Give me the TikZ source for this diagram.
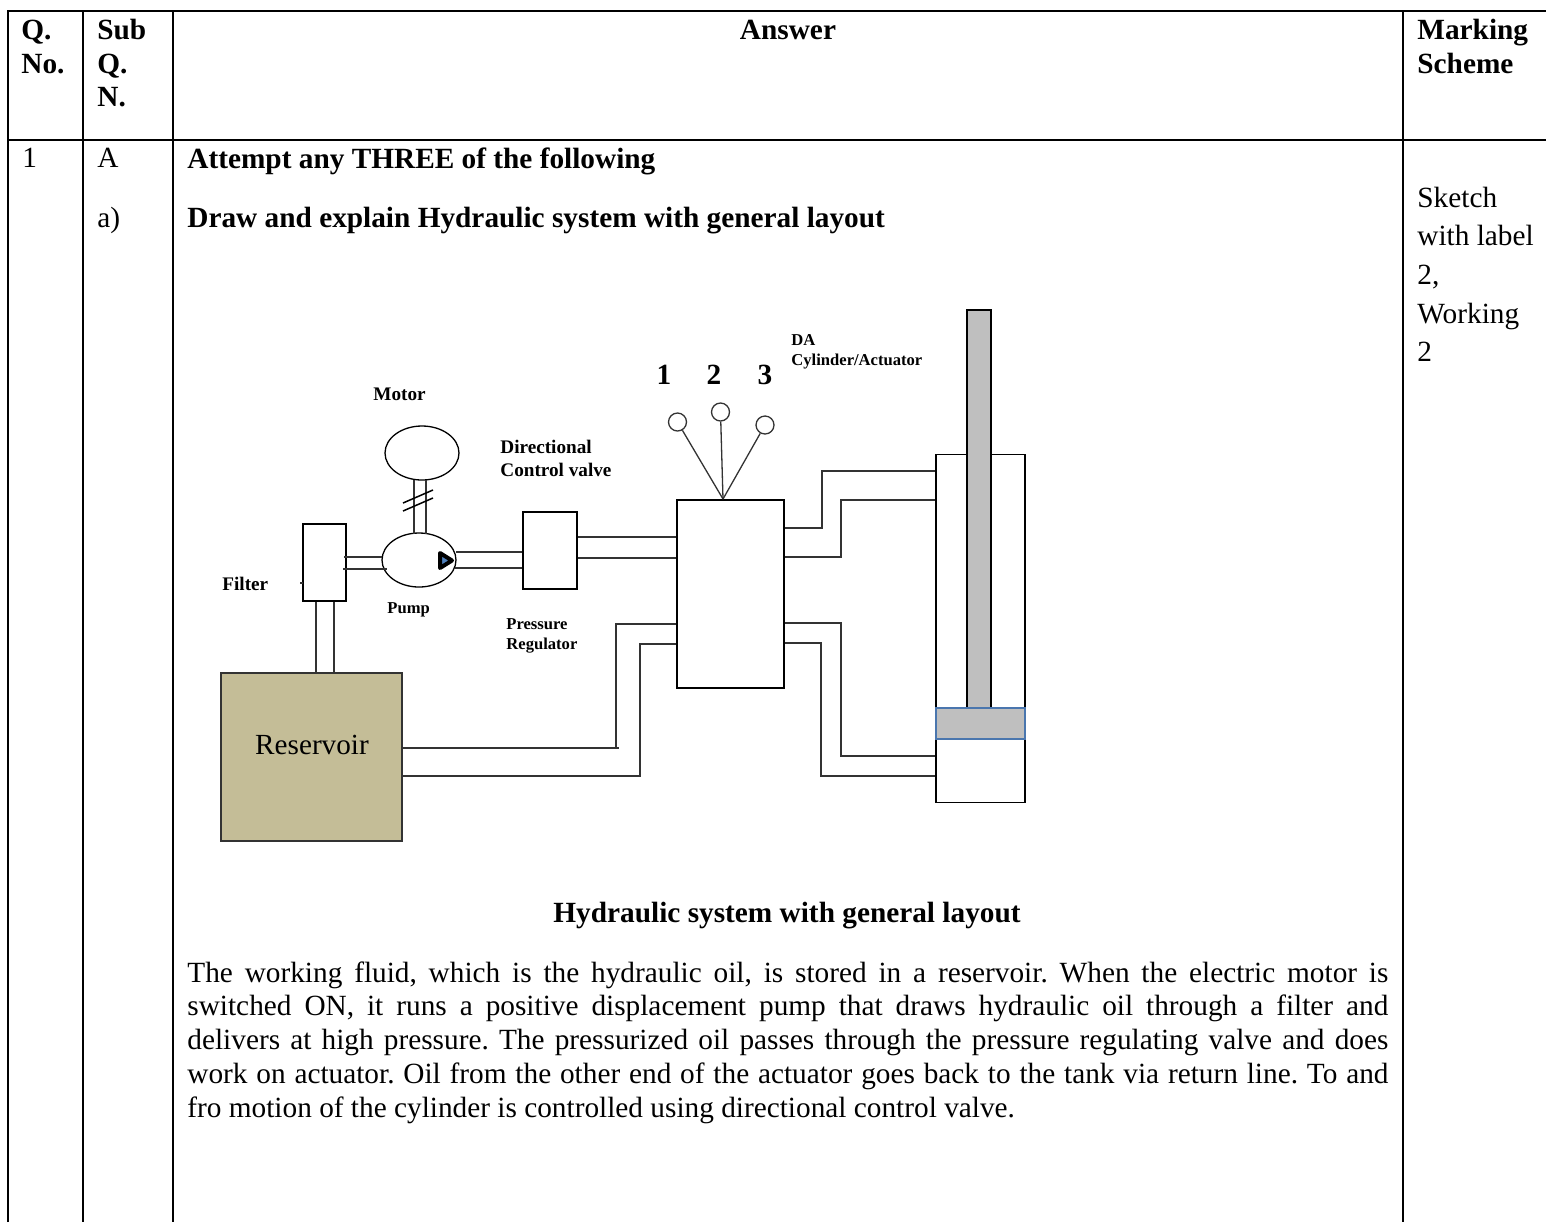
\documentclass[tikz,border=0pt]{standalone}
\usepackage{fontspec}
\usetikzlibrary{shapes.geometric}
\setmainfont{Liberation Serif}
\definecolor{tankfill}{HTML}{C4BD97}
\definecolor{steelfill}{HTML}{BFBFBF}
\definecolor{pistonedge}{HTML}{4A76AE}
\definecolor{arrowfill}{HTML}{4F81BD}
\tikzset{
	rule/.style={black, line width=1pt},
	part/.style={draw=black, line width=0.65pt, fill=white, inner sep=0pt, minimum width=0pt},
	pipe/.style={black!80, line width=0.65pt},
	body/.style={inner sep=0pt, anchor=base west, font=\fontsize{14.65}{16}\selectfont},
	head/.style={body, font=\fontsize{14.65}{16}\selectfont\bfseries},
	tag/.style={inner sep=0pt, anchor=base west, align=left, font=\fontsize{9.6}{11.5}\selectfont\bfseries},
	smalltag/.style={tag, font=\fontsize{8.3}{9.6}\selectfont\bfseries},
}
\begin{document}
\begin{tikzpicture}[x=0.5pt, y=-0.5pt]
		\useasboundingbox (0,0) rectangle (1546,1222);

		% Table rules
		\draw[rule] (8,1222) -- (8,11) -- (1546,11);
		\draw[rule] (8,139.5) -- (1546,139.5);
		\foreach \x in {83,173,1403} {
			\draw[rule] (\x,11) -- (\x,1222);
		}

		% Header row
		\node[head] (qa) at (21,39) {Q.};
		\node[head] (qb) at (21,73) {No.};
		\node[head] (suba) at (97,39) {Sub};
		\node[head] (subb) at (97,73) {Q.};
		\node[head] (subc) at (97,106) {N.};
		\node[head, anchor=base] (answer) at (788,39) {Answer};
		\node[head] (marka) at (1417,39) {Marking};
		\node[head] (markb) at (1417,73) {Scheme};

		% First column texts
		\node[body] (qnum) at (22,167) {1};
		\node[body] (subA) at (97,167) {A};
		\node[body] (suba2) at (97,227) {a)};
		\node[head] (attempt) at (187,168) {Attempt any THREE of the following};
		\node[head] (question) at (187,227) {Draw and explain Hydraulic system with general layout};
		\node[head, anchor=base] (caption) at (787,922) {Hydraulic system with general layout};

		% Marking scheme column
		\node[body] (ms1) at (1417,207) {Sketch};
		\node[body] (ms2) at (1417,245) {with label};
		\node[body] (ms3) at (1417,284) {2,};
		\node[body] (ms4) at (1417,323) {Working};
		\node[body] (ms5) at (1417,361) {2};

		% Explanation
		\node[inner sep=0pt, anchor=north west, text width=600.5pt, align=justify, font=\fontsize{14.65}{16.87}\selectfont\frenchspacing] (para) at (187,961) {The working fluid, which is the hydraulic oil, is stored in a reservoir. When the electric motor is\linebreak switched ON, it runs a positive displacement pump that draws hydraulic oil through a filter and\linebreak delivers at high pressure. The pressurized oil passes through the pressure regulating valve and does\linebreak work on actuator. Oil from the other end of the actuator goes back to the tank via return line. To and\linebreak fro motion of the cylinder is controlled using directional control valve.};

		% Cylinder with rod and piston
		\node[part, minimum width=44.5pt, minimum height=174pt] (cylinder) at (980.5,628.5) {};
		\node[part, fill=steelfill, minimum width=12pt, minimum height=199pt] (rod) at (979,509) {};
		\node[part, draw=pistonedge, fill=steelfill, minimum width=44.5pt, minimum height=15.5pt] (piston) at (980.5,723.5) {};

		% Parts
		\node[part, minimum width=21.5pt, minimum height=38.5pt] (filter) at (324.5,562.5) {};
		\node[part, ellipse, minimum width=37pt, minimum height=27pt] (motor) at (422,453) {};
		\node[part, ellipse, minimum width=37pt, minimum height=27pt] (pump) at (419,560) {};
		\node[part, minimum width=27pt, minimum height=38.5pt] (regulator) at (550,550.5) {};
		\node[part, minimum width=53.5pt, minimum height=94pt] (dcv) at (730.5,594) {};
		\node[part, draw=black!80, line width=0.55pt, fill=tankfill, minimum width=90.5pt, minimum height=84pt] (reservoir) at (311.5,757) {};
		\node[inner sep=0pt, font=\fontsize{14.6}{16}\selectfont] (reservoirlabel) at (312,745) {Reservoir};

		% Shaft between motor and pump
		\coordinate (S1) at (414,480);
		\coordinate (S2) at (414,534);
		\coordinate (S3) at (426,480);
		\coordinate (S4) at (426,534);
		\draw[pipe] (S1) -- (S2);
		\draw[pipe] (S3) -- (S4);
		\draw[black, line width=0.75pt] (403,503) -- (433,490);
		\draw[black, line width=0.75pt] (403,511) -- (433,498);

		% Flow arrow in the pump
		\draw[black, line width=2pt, fill=arrowfill, line join=round] (440,553) -- (440,568) -- (452,560.5) -- cycle;

		% Pipes, filter side
		\coordinate (F1) at (344,557);
		\coordinate (F2) at (382,557);
		\coordinate (F3) at (343,569);
		\coordinate (F4) at (387,569);
		\coordinate (F5) at (300,583);
		\coordinate (F6) at (303,583);
		\draw[pipe] (F1) -- (F2);
		\draw[pipe] (F3) -- (F4);
		\draw[pipe] (F5) -- (F6);
		\draw[pipe] (reservoir.north -| 316,0) -- (filter.south -| 316,0);
		\draw[pipe] (reservoir.north -| 334,0) -- (filter.south -| 334,0);

		% Pipes, pump to regulator to valve
		\draw[pipe] (456,552) -- (regulator.west |- 0,552);
		\draw[pipe] (455,568) -- (regulator.west |- 0,568);
		\draw[pipe] (regulator.east |- 0,537) -- (dcv.west |- 0,537);
		\draw[pipe] (regulator.east |- 0,558) -- (dcv.west |- 0,558);

		% Pipes, valve to cylinder
		\draw[pipe] (dcv.east |- 0,528) -- (822,528) -- (822,471) -- (cylinder.west |- 0,471);
		\draw[pipe] (dcv.east |- 0,557) -- (841,557) -- (841,500) -- (cylinder.west |- 0,500);
		\draw[pipe] (dcv.east |- 0,623) -- (841,623) -- (841,756) -- (cylinder.west |- 0,756);
		\draw[pipe] (dcv.east |- 0,643) -- (821,643) -- (821,776) -- (cylinder.west |- 0,776);

		% Pipes, reservoir to valve
		\draw[pipe] (reservoir.east |- 0,748) -- (619,748);
		\draw[pipe] (616,748) -- (616,624) -- (dcv.west |- 0,624);
		\draw[pipe] (reservoir.east |- 0,776) -- (640,776) -- (640,644) -- (dcv.west |- 0,644);

		% Valve levers
		\coordinate (hub) at (723,499);
		\node[part, circle, draw=black!80, minimum size=9pt] (lever1) at (677.5,422) {};
		\node[part, circle, draw=black!80, minimum size=9pt] (lever2) at (720.5,412) {};
		\node[part, circle, draw=black!80, minimum size=9pt] (lever3) at (765,425) {};
		\foreach \i in {1,2,3} {
			\draw[pipe] (lever\i) -- (hub);
		}

		% Diagram labels
		\node[tag] (motorlabel) at (373,400) {Motor};
		\node[tag] (filterlabel) at (222,590) {Filter};
		\node[smalltag] (pumplabel) at (387,613) {Pump};
		\node[tag] (dcvlabel) at (500,476) {Directional\\Control valve};
		\node[smalltag] (preslabel) at (506,649) {Pressure\\Regulator};
		\node[smalltag] (cyllabel) at (791,365) {DA\\Cylinder/Actuator};
		\node[head, anchor=base] (pos1) at (664,384) {1};
		\node[head, anchor=base] (pos2) at (714,384) {2};
		\node[head, anchor=base] (pos3) at (765,384) {3};
	\end{tikzpicture}
\end{document}
